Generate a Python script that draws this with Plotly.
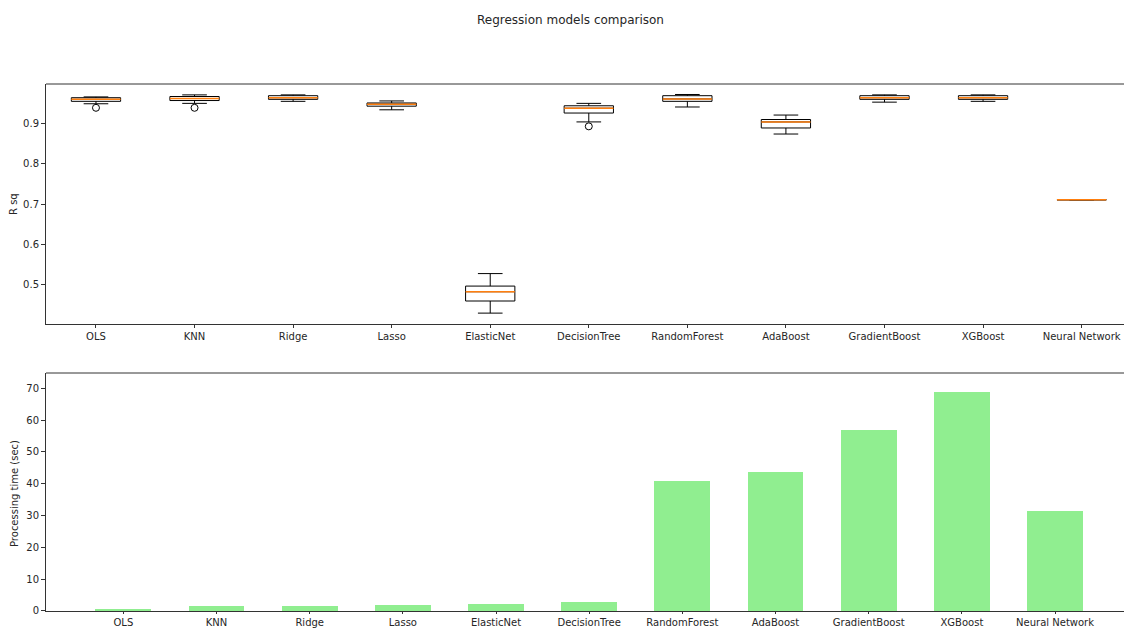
import plotly.graph_objects as go

models = ["OLS", "KNN", "Ridge", "Lasso", "ElasticNet", "DecisionTree",
          "RandomForest", "AdaBoost", "GradientBoost", "XGBoost", "Neural Network"]

# R-squared box statistics
r2_lowerfence = [0.949, 0.950, 0.955, 0.934, 0.430, 0.904, 0.941, 0.874, 0.953, 0.955, 0.711]
r2_q1         = [0.955, 0.957, 0.960, 0.943, 0.460, 0.926, 0.955, 0.889, 0.960, 0.960, 0.711]
r2_median     = [0.960, 0.962, 0.964, 0.948, 0.483, 0.938, 0.961, 0.904, 0.964, 0.964, 0.711]
r2_q3         = [0.964, 0.967, 0.969, 0.951, 0.497, 0.944, 0.969, 0.910, 0.969, 0.969, 0.711]
r2_upperfence = [0.966, 0.971, 0.971, 0.956, 0.528, 0.950, 0.972, 0.921, 0.971, 0.971, 0.711]

outlier_models = ["OLS", "KNN", "DecisionTree"]
outlier_values = [0.939, 0.939, 0.893]

# Processing time (sec)
proc_time = [0.35, 1.5, 1.5, 1.8, 2.1, 2.75, 41.0, 43.8, 57.0, 68.9, 31.3]

r2_ticks = [0.5, 0.6, 0.7, 0.8, 0.9]
time_ticks = [0, 10, 20, 30, 40, 50, 60, 70]

FONT = "DejaVu Sans"
TXT = "#262626"

fig = go.Figure()

fig.add_trace(go.Box(
    x=models, q1=r2_q1, median=r2_median, q3=r2_q3,
    lowerfence=r2_lowerfence, upperfence=r2_upperfence,
    width=0.5, whiskerwidth=0.5,
    line=dict(color="black", width=1), fillcolor="rgba(0,0,0,0)",
    xaxis="x", yaxis="y", showlegend=False, hoverinfo="skip",
))
# orange median lines (matplotlib style)
fig.add_trace(go.Box(
    x=models, q1=r2_median, median=r2_median, q3=r2_median,
    lowerfence=r2_median, upperfence=r2_median,
    width=0.5, whiskerwidth=0,
    line=dict(color="#ff7f0e", width=1.5), fillcolor="rgba(0,0,0,0)",
    xaxis="x", yaxis="y", showlegend=False, hoverinfo="skip",
))
fig.add_trace(go.Scatter(
    x=outlier_models, y=outlier_values, mode="markers",
    marker=dict(symbol="circle-open", size=7, color="black", line=dict(width=1)),
    xaxis="x", yaxis="y", showlegend=False,
))

fig.add_trace(go.Bar(
    x=models, y=proc_time, width=0.6, marker=dict(color="#90ee90", line=dict(width=0)),
    xaxis="x2", yaxis="y2", showlegend=False,
))

axis_common = dict(
    showgrid=False, zeroline=False, showline=True, linecolor="#333333", linewidth=1,
    ticks="outside", tickwidth=1, tickcolor="#333333",
    tickfont=dict(family=FONT, size=10, color=TXT), automargin=False,
)

fig.update_layout(
    width=1124, height=629,
    margin=dict(l=46, r=0, t=84, b=18),
    plot_bgcolor="white", paper_bgcolor="white",
    bargap=0,
    xaxis=dict(domain=[0, 1], anchor="y", type="category", categoryorder="array",
               categoryarray=models, range=[-0.507, 10.43], ticklen=3, **axis_common),
    yaxis=dict(domain=[0.5446, 1], anchor="x", range=[0.403, 0.998], ticklen=4,
               tickvals=r2_ticks, ticktext=[f"{t:.1f}" for t in r2_ticks], **axis_common),
    xaxis2=dict(domain=[0, 1], anchor="y2", type="category", categoryorder="array",
                categoryarray=models, range=[-0.83, 10.74], ticklen=2, **axis_common),
    yaxis2=dict(domain=[0, 0.4516], anchor="x2", range=[0, 74.8], ticklen=4,
                tickvals=time_ticks, ticktext=[str(t) for t in time_ticks], **axis_common),
    shapes=[
        dict(type="line", xref="x domain", yref="y domain", x0=0, x1=1, y0=1, y1=1,
             line=dict(color="#333333", width=1)),
        dict(type="line", xref="x2 domain", yref="y2 domain", x0=0, x1=1, y0=1, y1=1,
             line=dict(color="#333333", width=1)),
    ],
    annotations=[
        dict(text="Regression models comparison", xref="paper", yref="paper",
             x=0.487, y=1.1214, showarrow=False, xanchor="center", yanchor="middle",
             font=dict(family=FONT, size=12, color=TXT)),
        dict(text="R sq", xref="paper", yref="paper", x=-0.0297, y=0.7723, textangle=-90,
             showarrow=False, xanchor="center", yanchor="middle",
             font=dict(family=FONT, size=10, color=TXT)),
        dict(text="Processing time (sec)", xref="paper", yref="paper", x=-0.0297, y=0.2239,
             textangle=-90, showarrow=False, xanchor="center", yanchor="middle",
             font=dict(family=FONT, size=10, color=TXT)),
    ],
)

fig.write_html("out.html")
